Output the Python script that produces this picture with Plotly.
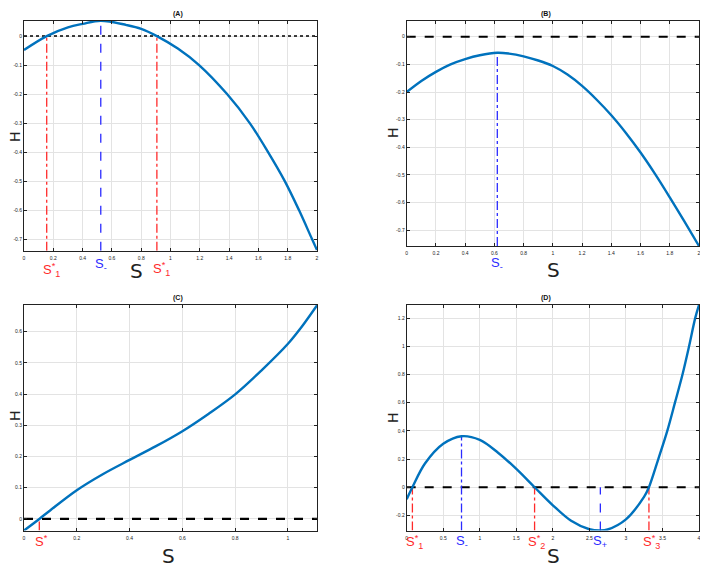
import plotly.graph_objects as go

# ---- data ----
# (A)
a_s = [0, 0.155, 0.3, 0.4, 0.524, 0.7, 0.8, 0.907, 1.05, 1.195, 1.386, 1.541, 1.666, 1.78, 1.877, 1.966, 2.0]
a_h = [-0.048, 0, 0.030, 0.042, 0.053, 0.038, 0.025, 0, -0.043, -0.1, -0.2, -0.3, -0.4, -0.5, -0.6, -0.7, -0.738]
a_roots = [0.155, 0.907]
a_peak = [0.524, 0.053]

# (B)
b_s = [0, 0.1, 0.2, 0.3, 0.4, 0.5, 0.62, 0.7, 0.8, 0.9, 1.0, 1.1, 1.2, 1.3, 1.4, 1.5, 1.6, 1.7, 1.8, 1.9, 2.0]
b_h = [-0.20, -0.16, -0.127, -0.10, -0.081, -0.067, -0.058, -0.061, -0.071, -0.086, -0.106, -0.137, -0.178,
       -0.228, -0.284, -0.348, -0.419, -0.497, -0.581, -0.668, -0.757]
b_peak = [0.62, -0.058]

# (C)
c_s = [0, 0.058, 0.1, 0.2, 0.3, 0.4, 0.5, 0.6, 0.7, 0.8, 0.9, 1.0, 1.05, 1.11]
c_h = [-0.037, 0, 0.028, 0.092, 0.144, 0.189, 0.233, 0.281, 0.337, 0.399, 0.476, 0.561, 0.613, 0.684]
c_roots = [0.058]

# (D)
d_s = [0, 0.078, 0.25, 0.5, 0.75, 1.0, 1.25, 1.5, 1.75, 2.0, 2.25, 2.5, 2.65, 2.75, 3.0, 3.25, 3.315,
       3.443, 3.566, 3.671, 3.774, 3.864, 3.948, 4.0]
d_h = [-0.085, 0, 0.168, 0.308, 0.362, 0.336, 0.245, 0.13, 0, -0.128, -0.238, -0.298, -0.307, -0.300,
       -0.228, -0.066, 0, 0.2, 0.4, 0.6, 0.8, 1.0, 1.2, 1.293]
d_roots = [0.078, 1.75, 3.315]
d_peak = [0.75, 0.362]
d_trough = [2.65, -0.307]

# axis ranges and ticks
a_xrange, a_yrange = [0, 2], [-0.74, 0.053]
b_xrange, b_yrange = [0, 2], [-0.757, 0.058]
c_xrange, c_yrange = [0, 1.11], [-0.037, 0.685]
d_xrange, d_yrange = [0, 4], [-0.307, 1.293]

ab_xticks = [0, 0.2, 0.4, 0.6, 0.8, 1, 1.2, 1.4, 1.6, 1.8, 2]
ab_yticks = [0, -0.1, -0.2, -0.3, -0.4, -0.5, -0.6, -0.7]
c_xticks = [0, 0.2, 0.4, 0.6, 0.8, 1]
c_yticks = [0, 0.1, 0.2, 0.3, 0.4, 0.5, 0.6]
d_xticks = [0, 0.5, 1, 1.5, 2, 2.5, 3, 3.5, 4]
d_yticks = [-0.2, 0, 0.2, 0.4, 0.6, 0.8, 1, 1.2]

BLUE = "#0072BD"
RED = "#FF2A2A"
VBLUE = "#2B2BFF"

# the page body adds an 8px margin, so the figure is sized to fit the window
W, H = 700, 559
OFF = 8


def px(x):
    return (x - OFF) / W


def py(y):
    return 1 - (y - OFF) / H


fig = go.Figure()

panels = {
    "A": dict(xa="x", ya="y", xd=[px(24), px(317)], yd=[py(250.7), py(20.7)]),
    "B": dict(xa="x2", ya="y2", xd=[px(406.7), px(699)], yd=[py(246), py(20.7)]),
    "C": dict(xa="x3", ya="y3", xd=[px(24), px(317)], yd=[py(530.5), py(305)]),
    "D": dict(xa="x4", ya="y4", xd=[px(406.7), px(699)], yd=[py(530.5), py(305)]),
}


def curve(p, s, h):
    fig.add_trace(go.Scatter(x=s, y=h, mode="lines", line=dict(color=BLUE, width=2.4, shape="spline", smoothing=1),
                             xaxis=panels[p]["xa"], yaxis=panels[p]["ya"], showlegend=False))


def zero_line(p, xr, dash, width):
    fig.add_trace(go.Scatter(x=xr, y=[0, 0], mode="lines", line=dict(color="black", width=width, dash=dash),
                             xaxis=panels[p]["xa"], yaxis=panels[p]["ya"], showlegend=False))


def vline(p, s, y0, y1, color, dash="dashdot"):
    fig.add_trace(go.Scatter(x=[s, s], y=[y0, y1], mode="lines", line=dict(color=color, width=1.3, dash=dash),
                             xaxis=panels[p]["xa"], yaxis=panels[p]["ya"], showlegend=False))


# (A)
zero_line("A", a_xrange, "dot", 1.6)
for r in a_roots:
    vline("A", r, a_yrange[0], 0, RED)
vline("A", a_peak[0], a_yrange[0], a_peak[1], VBLUE, dash="dash")
curve("A", a_s, a_h)

# (B)
zero_line("B", b_xrange, "dash", 2.2)
vline("B", b_peak[0], b_yrange[0], b_peak[1], VBLUE)
curve("B", b_s, b_h)

# (C)
zero_line("C", c_xrange, "dash", 2.2)
for r in c_roots:
    vline("C", r, c_yrange[0], 0, RED)
curve("C", c_s, c_h)

# (D)
zero_line("D", d_xrange, "dash", 2.2)
for r in d_roots:
    vline("D", r, d_yrange[0], 0, RED)
vline("D", d_peak[0], d_yrange[0], d_peak[1], VBLUE)
vline("D", d_trough[0], d_trough[1], 0, VBLUE, dash="dash")
curve("D", d_s, d_h)


def fmt(v):
    return ("%g" % v)


axis_common = dict(showline=True, linecolor="#222", linewidth=1, mirror="ticks", ticks="inside",
                   ticklen=3, tickcolor="#222", showgrid=True, gridcolor="#e3e3e3", gridwidth=1,
                   zeroline=False, automargin=False,
                   tickfont=dict(family="Liberation Sans Narrow, Arial", size=5, color="#222"))

specs = [
    ("A", a_xrange, a_yrange, ab_xticks, ab_yticks),
    ("B", b_xrange, b_yrange, ab_xticks, ab_yticks),
    ("C", c_xrange, c_yrange, c_xticks, c_yticks),
    ("D", d_xrange, d_yrange, d_xticks, d_yticks),
]
layout_axes = {}
for i, (p, xr, yr, xt, yt) in enumerate(specs):
    suffix = "" if i == 0 else str(i + 1)
    layout_axes["xaxis" + suffix] = dict(axis_common, domain=panels[p]["xd"], range=xr, anchor="y" + suffix,
                                         tickvals=xt, ticktext=[fmt(v) for v in xt], ticklabelstandoff=2)
    layout_axes["yaxis" + suffix] = dict(axis_common, domain=panels[p]["yd"], range=yr, anchor="x" + suffix,
                                         tickvals=yt, ticktext=[fmt(v) for v in yt])

fig.update_layout(**layout_axes)

ann = []
# panel titles
for p in panels:
    xd, yd = panels[p]["xd"], panels[p]["yd"]
    ann.append(dict(text="<b>(%s)</b>" % p, x=(xd[0] + xd[1]) / 2, y=yd[1], xref="paper", yref="paper",
                    yanchor="bottom", yshift=1, showarrow=False,
                    font=dict(family="Liberation Sans Narrow, Arial", size=7, color="#111")))

# big S axis labels and rotated H axis labels (page pixel positions)
s_label_pos = {"A": (136, 271), "B": (553, 270), "C": (168, 556), "D": (553, 556)}
h_label_pos = {"A": (15, 137), "B": (393, 133), "C": (15, 416), "D": (393, 418)}
for p, (xx, yy) in s_label_pos.items():
    ann.append(dict(text="S", x=px(xx), y=py(yy), xref="paper", yref="paper",
                    xanchor="center", yanchor="middle", showarrow=False,
                    font=dict(family="DejaVu Sans", size=20, color="#222")))
for p, (xx, yy) in h_label_pos.items():
    ann.append(dict(text="H", x=px(xx), y=py(yy), xref="paper", yref="paper", textangle=-90,
                    xanchor="center", yanchor="middle", showarrow=False,
                    font=dict(family="DejaVu Sans", size=14, color="#222")))


def point_label(p, s, text, color, yy):
    ann.append(dict(text=text, x=s, y=py(yy), xref=panels[p]["xa"], yref="paper", showarrow=False,
                    xanchor="center", yanchor="middle",
                    font=dict(family="Liberation Sans Narrow, Arial", size=13, color=color)))


star = "S<sup>*</sup><sub>%d</sub>"
point_label("A", a_roots[0] + 0.03, star % 1, RED, 270)
point_label("A", a_roots[1] + 0.03, star % 1, RED, 269)
point_label("A", a_peak[0], "S<sub>-</sub>", VBLUE, 264)
point_label("B", b_peak[0], "S<sub>-</sub>", VBLUE, 263)
point_label("C", c_roots[0] + 0.01, "S<sup>*</sup>", RED, 541)
point_label("D", d_roots[0] + 0.03, star % 1, RED, 542)
point_label("D", d_roots[1] + 0.03, star % 2, RED, 542)
point_label("D", d_roots[2] + 0.03, star % 3, RED, 542)
point_label("D", d_peak[0], "S<sub>-</sub>", VBLUE, 541)
point_label("D", d_trough[0], "S<sub>+</sub>", VBLUE, 541)

fig.update_layout(annotations=ann, width=W, height=H, margin=dict(l=0, r=0, t=0, b=0, autoexpand=False),
                  paper_bgcolor="white", plot_bgcolor="white", showlegend=False)

fig.write_html("out.html")
